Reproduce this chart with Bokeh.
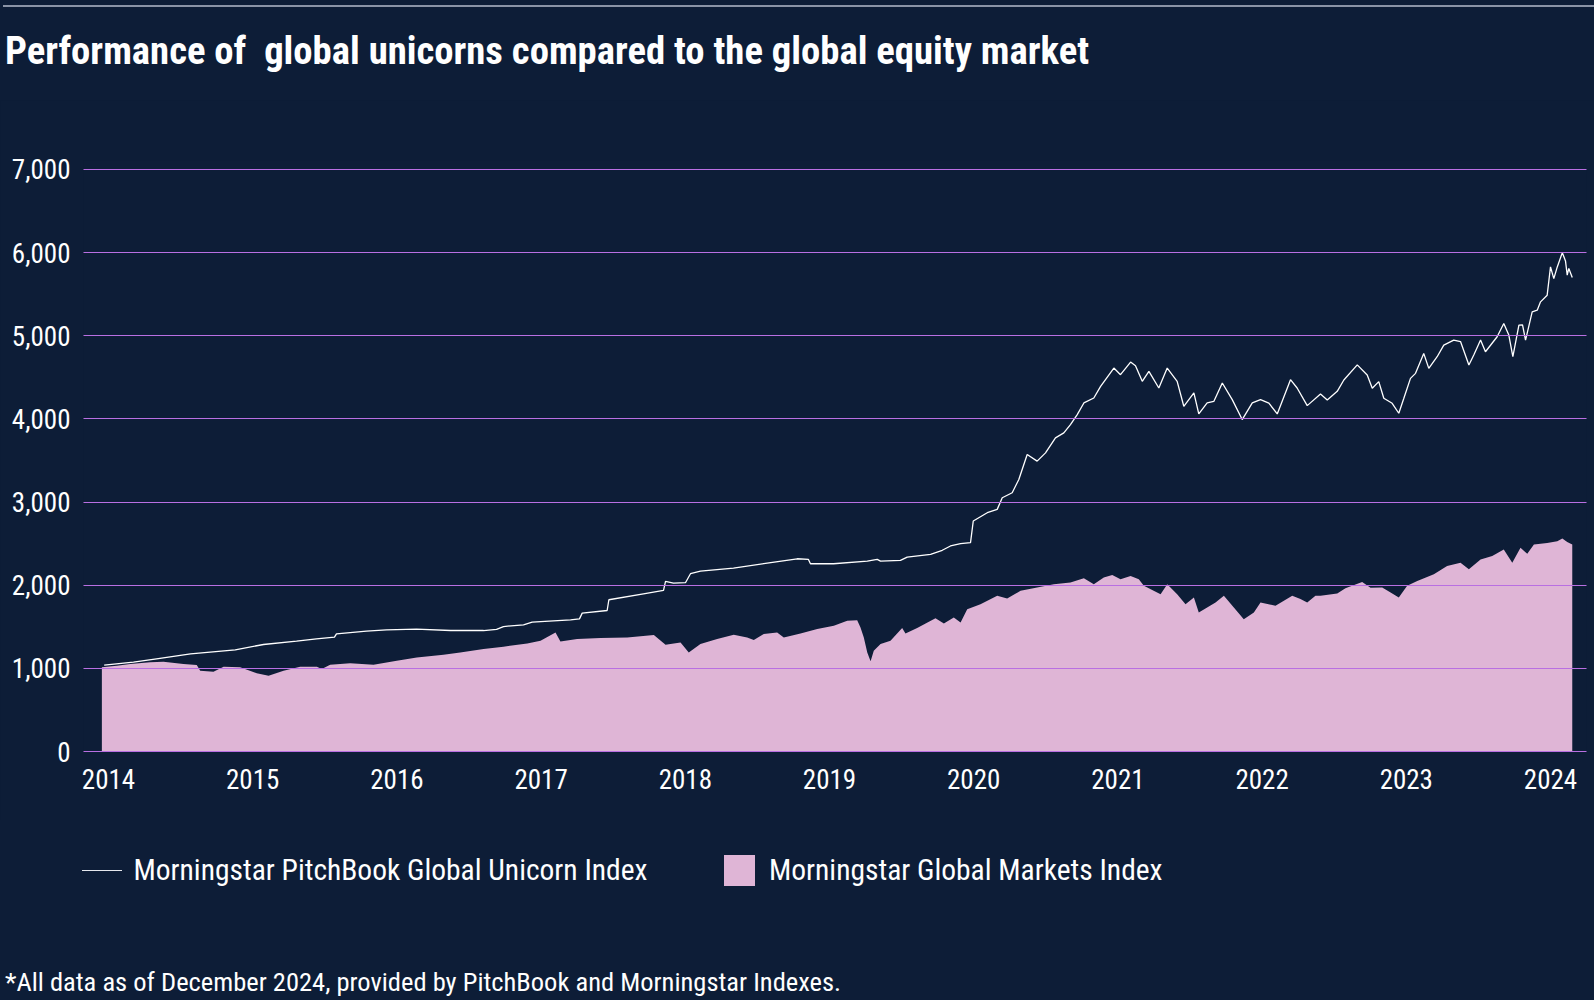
from bokeh.plotting import figure
from bokeh.layouts import column
from bokeh.models import FixedTicker, NumeralTickFormatter, Range1d, Div
from bokeh.embed import file_html
from bokeh.resources import INLINE

# ---------------- data (decimal year, index level) ----------------
uni_x = [2013.970, 2014.173, 2014.333, 2014.569, 2014.879, 2015.075, 2015.304, 2015.442,
         2015.567, 2015.581, 2015.789, 2015.928, 2016.136, 2016.372, 2016.601, 2016.691,
         2016.739, 2016.878, 2016.938, 2017.204, 2017.266, 2017.285, 2017.458, 2017.470,
         2017.710, 2017.849, 2017.863, 2017.918, 2018.001, 2018.036, 2018.105, 2018.334,
         2018.568, 2018.776, 2018.854, 2018.868, 2019.028, 2019.262, 2019.331, 2019.354,
         2019.492, 2019.539, 2019.701, 2019.782, 2019.839, 2019.909, 2019.978, 2019.997,
         2020.094, 2020.163, 2020.198, 2020.267, 2020.313, 2020.371, 2020.440, 2020.498,
         2020.567, 2020.625, 2020.671, 2020.718, 2020.764, 2020.833, 2020.880, 2020.972,
         2021.018, 2021.088, 2021.122, 2021.169, 2021.215, 2021.284, 2021.342, 2021.411,
         2021.457, 2021.527, 2021.561, 2021.619, 2021.665, 2021.724, 2021.793, 2021.862,
         2021.932, 2021.989, 2022.047, 2022.105, 2022.197, 2022.243, 2022.313, 2022.405,
         2022.452, 2022.521, 2022.567, 2022.660, 2022.729, 2022.764, 2022.809, 2022.844,
         2022.902, 2022.948, 2022.983, 2023.029, 2023.064, 2023.121, 2023.156, 2023.214,
         2023.260, 2023.329, 2023.376, 2023.434, 2023.468, 2023.515, 2023.549, 2023.630,
         2023.676, 2023.711, 2023.739, 2023.781, 2023.806, 2023.827, 2023.873, 2023.908,
         2023.931, 2023.977, 2024.000, 2024.023, 2024.047, 2024.082, 2024.104, 2024.116,
         2024.127, 2024.151]
uni_y = [1040, 1075, 1115, 1175, 1223, 1287, 1327, 1355,
         1375, 1415, 1447, 1463, 1471, 1455, 1455, 1470,
         1503, 1524, 1556, 1584, 1595, 1664, 1696, 1825,
         1897, 1937, 2045, 2025, 2030, 2138, 2169, 2205,
         2265, 2318, 2310, 2258, 2258, 2289, 2310, 2290,
         2298, 2338, 2372, 2420, 2472, 2499, 2512, 2772,
         2872, 2912, 3052, 3112, 3272, 3572, 3492, 3592,
         3772, 3832, 3932, 4052, 4192, 4252, 4392, 4612,
         4532, 4684, 4640, 4452, 4572, 4372, 4612, 4452,
         4152, 4312, 4060, 4192, 4210, 4432, 4232, 3992,
         4192, 4232, 4190, 4060, 4472, 4372, 4160, 4300,
         4228, 4332, 4468, 4650, 4528, 4368, 4448, 4248,
         4188, 4068, 4248, 4488, 4548, 4788, 4608, 4748,
         4888, 4948, 4930, 4648, 4768, 4948, 4808, 4988,
         5148, 5008, 4748, 5128, 5130, 4948, 5288, 5308,
         5408, 5488, 5828, 5688, 5828, 6000, 5900, 5730,
         5810, 5700]

mkt_x = [2013.954, 2014.058, 2014.150, 2014.289, 2014.381, 2014.520, 2014.612, 2014.636,
         2014.728, 2014.798, 2014.913, 2015.028, 2015.110, 2015.214, 2015.329, 2015.445,
         2015.479, 2015.537, 2015.676, 2015.838, 2015.999, 2016.138, 2016.323, 2016.439,
         2016.601, 2016.739, 2016.904, 2016.996, 2017.100, 2017.134, 2017.250, 2017.412,
         2017.597, 2017.782, 2017.863, 2017.967, 2018.024, 2018.105, 2018.221, 2018.336,
         2018.429, 2018.475, 2018.544, 2018.637, 2018.683, 2018.799, 2018.915, 2019.030,
         2019.123, 2019.192, 2019.215, 2019.238, 2019.262, 2019.285, 2019.307, 2019.354,
         2019.423, 2019.504, 2019.527, 2019.608, 2019.735, 2019.793, 2019.862, 2019.909,
         2019.955, 2020.047, 2020.163, 2020.232, 2020.325, 2020.440, 2020.556, 2020.671,
         2020.764, 2020.833, 2020.902, 2020.961, 2021.018, 2021.088, 2021.145, 2021.180,
         2021.296, 2021.342, 2021.411, 2021.469, 2021.527, 2021.561, 2021.619, 2021.677,
         2021.735, 2021.804, 2021.873, 2021.943, 2021.989, 2022.093, 2022.209, 2022.266,
         2022.313, 2022.370, 2022.405, 2022.521, 2022.578, 2022.694, 2022.752, 2022.833,
         2022.891, 2022.948, 2023.006, 2023.076, 2023.191, 2023.283, 2023.376, 2023.434,
         2023.515, 2023.596, 2023.676, 2023.735, 2023.792, 2023.839, 2023.885, 2023.977,
         2024.047, 2024.082, 2024.116, 2024.151]
mkt_y = [1012, 1032, 1052, 1072, 1080, 1052, 1040, 972,
         960, 1020, 1012, 940, 912, 972, 1020, 1020,
         992, 1044, 1060, 1044, 1092, 1132, 1164, 1192,
         1232, 1260, 1300, 1332, 1432, 1324, 1352, 1364,
         1372, 1400, 1284, 1312, 1192, 1292, 1352, 1404,
         1372, 1340, 1412, 1432, 1372, 1420, 1472, 1512,
         1572, 1580, 1492, 1372, 1192, 1084, 1212, 1292,
         1332, 1484, 1420, 1484, 1604, 1540, 1612, 1552,
         1712, 1772, 1872, 1840, 1932, 1972, 2012, 2032,
         2084, 2012, 2092, 2124, 2072, 2112, 2072, 1992,
         1892, 2012, 1892, 1772, 1852, 1672, 1732, 1792,
         1872, 1732, 1592, 1672, 1792, 1752, 1872, 1833,
         1793, 1872, 1873, 1900, 1964, 2040, 1970, 1972,
         1912, 1853, 1992, 2052, 2131, 2231, 2271, 2191,
         2310, 2350, 2430, 2271, 2450, 2378, 2490, 2509,
         2529, 2561, 2520, 2490]

year_ticks = [2014, 2015, 2016, 2017, 2018, 2019, 2020, 2021, 2022, 2023, 2024]
value_ticks = [0, 1000, 2000, 3000, 4000, 5000, 6000, 7000]

title_text = "Performance of  global unicorns compared to the global equity market"
legend_unicorn = "Morningstar PitchBook Global Unicorn Index"
legend_market = "Morningstar Global Markets Index"
footnote_text = "*All data as of December 2024, provided by PitchBook and Morningstar Indexes."

# ---------------- style ----------------
BG = "#0d1d37"
PINK = "#dfb5d6"
GRID = "#b96fe2"
WHITE = "#ffffff"
RULE = "#8a93a6"
FONT = "'Roboto Condensed', 'DejaVu Sans Condensed', sans-serif"
ASC = 0.842   # baseline offset (em) from top of a line-height:1 box

W = 1594
HEAD_H, MAIN_H, FOOT_H = 100, 720, 180


def txt(left, baseline, size, text, bold=False):
    top = baseline - ASC * size
    weight = "bold" if bold else "normal"
    return (f'<div style="position:absolute;left:{left}px;top:{top:.1f}px;'
            f"font-family:{FONT};font-size:{size}px;font-weight:{weight};"
            f'line-height:1;color:{WHITE};white-space:pre;">{text}</div>')


def rect(left, top, width, height, color):
    return (f'<div style="position:absolute;left:{left}px;top:{top}px;width:{width}px;'
            f'height:{height}px;background:{color};"></div>')


def panel(height, inner):
    return Div(text=(f'<div style="position:relative;width:{W}px;height:{height}px;'
                     f'background:{BG};overflow:hidden;">{inner}</div>'),
               width=W, height=height, margin=0,
               styles={"background-color": BG})


# ---------------- header: rule + title ----------------
head = panel(HEAD_H, rect(3, 5, W - 3, 1.5, RULE) + txt(5, 65, 38.7, title_text, bold=True))

# ---------------- main chart ----------------
TOP = HEAD_H
FL, FR, FT, FB = 83, 1586, 160 - TOP, 751 - TOP

p = figure(width=W, height=MAIN_H, output_backend="svg", toolbar_location=None,
           x_range=Range1d(2013.8266, 2024.2497), y_range=Range1d(0, 7108),
           min_border_left=FL, min_border_right=W - FR,
           min_border_top=FT, min_border_bottom=MAIN_H - FB)
p.background_fill_color = BG
p.border_fill_color = BG
p.outline_line_color = None
p.styles = {"background-color": BG}

p.varea(x=mkt_x, y1=0, y2=mkt_y, fill_color=PINK, fill_alpha=1.0)
p.line(x=uni_x, y=uni_y, line_color=WHITE, line_width=1.3)

p.xaxis.ticker = FixedTicker(ticks=year_ticks)
p.xaxis.major_label_overrides = {y: str(y) for y in year_ticks}
p.xaxis.axis_line_color = GRID
p.xaxis.axis_line_width = 1
p.xaxis.major_tick_line_color = None
p.xaxis.minor_tick_line_color = None
p.xaxis.major_tick_out = 0
p.xaxis.major_tick_in = 0
p.xaxis.major_label_text_font = FONT
p.xaxis.major_label_text_font_size = "27px"
p.xaxis.major_label_text_color = WHITE
p.xaxis.major_label_standoff = 17

p.yaxis.ticker = FixedTicker(ticks=value_ticks)
p.yaxis.formatter = NumeralTickFormatter(format="0,0")
p.yaxis.axis_line_color = None
p.yaxis.major_tick_line_color = None
p.yaxis.minor_tick_line_color = None
p.yaxis.major_tick_out = 0
p.yaxis.major_tick_in = 0
p.yaxis.major_label_text_font = FONT
p.yaxis.major_label_text_font_size = "27px"
p.yaxis.major_label_text_color = WHITE
p.yaxis.major_label_standoff = 13

p.xgrid.grid_line_color = None
p.ygrid.ticker = FixedTicker(ticks=value_ticks[1:])
p.ygrid.grid_line_color = GRID
p.ygrid.grid_line_width = 1
p.ygrid.level = "guide"

# ---------------- footer: legend + footnote ----------------
F0 = HEAD_H + MAIN_H
foot_inner = (rect(82, 870 - F0, 40, 1.3, "#e6e8ee")
              + txt(133.5, 881 - F0, 29.5, legend_unicorn)
              + rect(724, 855 - F0, 31, 31, PINK)
              + txt(769, 881 - F0, 29.5, legend_market)
              + txt(5, 991.5 - F0, 26.5, footnote_text))
foot = panel(FOOT_H, foot_inner)

layout = column(head, p, foot, spacing=0, styles={"background-color": BG})
open("out.html", "w").write(file_html(layout, INLINE))
